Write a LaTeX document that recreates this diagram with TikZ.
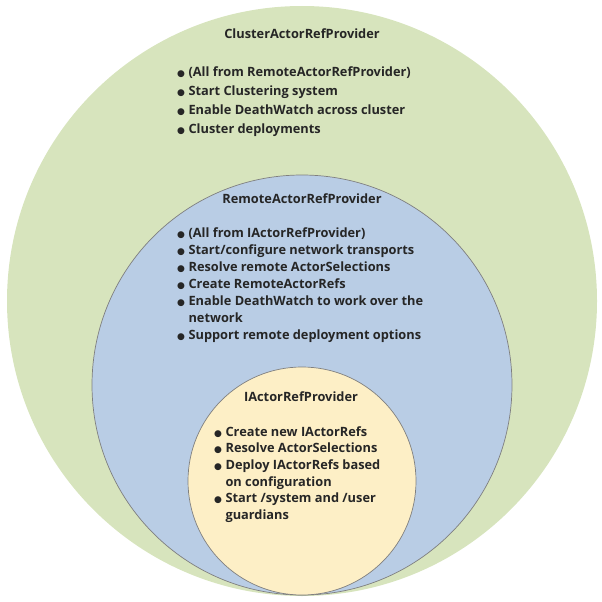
\documentclass[tikz,border=0pt]{standalone}
\usepackage{fontspec}
\setmainfont{Open Sans}
\newfontfamily\dotfont{DejaVu Sans}
\usepackage{xcolor}
\usetikzlibrary{positioning}

\definecolor{clustergreen}{HTML}{D7E4BD}
\definecolor{remoteblue}{HTML}{B9CDE5}
\definecolor{localyellow}{HTML}{FDEFC6}
\definecolor{ringgray}{HTML}{7F7F7F}
\definecolor{txtgray}{HTML}{262626}

\newcommand{\bul}{{\dotfont\fontsize{9}{9}\selectfont ●}\hspace{3.5pt}}
\newcommand{\bulgap}{\phantom{\bul}}

\begin{document}
\begin{tikzpicture}[
    x=1pt, y=-1pt,
    every node/.style={font=\fontsize{12.8}{17}\selectfont\bfseries, text=txtgray, inner sep=0pt},
    ring/.style={circle, draw=ringgray, line width=0.7pt},
    items/.style={anchor=north west, align=left}
]
    \useasboundingbox (0,0) rectangle (602,602);
    % nested providers
    \node[ring, draw=none, fill=clustergreen, minimum size=590pt] (cluster) at (302,301) {};
    \node[ring, fill=remoteblue, minimum size=420pt] (remote) at (302,385) {};
    \node[ring, fill=localyellow, minimum size=228pt] (local) at (302,481) {};

    \node (clustertitle) at (302,34) {ClusterActorRefProvider};
    \node[items, font=\fontsize{12.8}{18.7}\selectfont\bfseries] (clusteritems) at (177,67) {%
        \bul(All from RemoteActorRefProvider)\\
        \bul Start Clustering system\\
        \bul Enable DeathWatch across cluster\\
        \bul Cluster deployments};

    \node (remotetitle) at (302,199) {RemoteActorRefProvider};
    \node[items] (remoteitems) at (177,228) {%
        \bul(All from IActorRefProvider)\\
        \bul Start/configure network transports\\
        \bul Resolve remote ActorSelections\\
        \bul Create RemoteActorRefs\\
        \bul Enable DeathWatch to work over the\\
        \bulgap network\\
        \bul Support remote deployment options};

    \node (localtitle) at (301,397) {IActorRefProvider};
    \node[items, font=\fontsize{12.8}{16.7}\selectfont\bfseries] (localitems) at (214,426) {%
        \bul Create new IActorRefs\\
        \bul Resolve ActorSelections\\
        \bul Deploy IActorRefs based\\
        \bulgap on configuration\\
        \bul Start /system and /user\\
        \bulgap guardians};
\end{tikzpicture}
\end{document}
